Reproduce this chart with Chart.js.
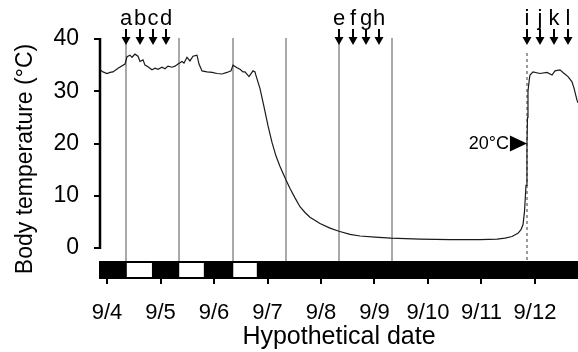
<!DOCTYPE html>
<html><head><meta charset="utf-8">
<script src="https://cdn.jsdelivr.net/npm/chart.js@4/dist/chart.umd.min.js"></script>
<style>html,body{margin:0;padding:0;background:#fff;overflow:hidden}#wrap{width:578px;height:352px}</style>
</head><body><div id="wrap"><canvas id="c" width="578" height="352"></canvas></div>
<script>
// ---- data ----
const dateLabels = ['9/4','9/5','9/6','9/7','9/8','9/9','9/10','9/11','9/12'];
const yTickValues = [0, 10, 20, 30, 40];
// days since 9/4 00:00
const tempDays = [-0.131,-0.075,0.000,0.056,0.112,0.206,0.336,0.374,0.430,0.467,0.523,0.579,0.617,0.673,0.710,0.766,0.841,0.897,0.953,1.028,1.084,1.140,1.215,1.271,1.327,1.402,1.439,1.495,1.551,1.607,1.682,1.720,1.776,1.869,1.963,2.056,2.150,2.243,2.318,2.355,2.430,2.486,2.542,2.579,2.654,2.729,2.766,2.785,2.860,2.935,3.009,3.084,3.159,3.234,3.346,3.421,3.514,3.607,3.701,3.794,3.981,4.168,4.336,4.542,4.729,5.009,5.308,5.850,6.411,6.972,7.290,7.439,7.570,7.682,7.738,7.776,7.804,7.832,7.850,7.860,7.869,7.897,7.907,7.963,8.093,8.224,8.318,8.374,8.467,8.523,8.617,8.692,8.729,8.785,8.804];
const tempValues = [34.1,33.7,33.4,33.6,33.7,34.4,35.2,36.6,36.9,36.5,37.1,36.7,35.7,36.0,35.0,34.7,34.1,34.4,34.2,34.6,34.3,34.8,34.6,34.8,35.2,35.7,35.4,36.5,35.8,36.7,36.9,35.2,33.9,33.7,33.6,33.4,33.3,33.6,33.9,35.0,34.5,34.2,33.7,33.7,32.8,33.9,33.7,33.0,30.5,27.0,23.4,20.2,17.6,15.6,13.0,11.4,9.6,7.9,6.8,5.9,4.7,3.8,3.2,2.6,2.3,2.1,1.9,1.7,1.6,1.6,1.7,1.9,2.2,2.8,3.5,4.5,7.0,12.0,20.0,25.0,30.0,32.5,33.1,33.7,33.4,33.6,33.1,33.9,34.1,33.6,32.8,31.8,30.6,28.3,27.8];
const lightOn  = [0.37, 1.35, 2.36];
const lightOff = [0.84, 1.81, 2.80];
const markerDays = [0.36, 1.35, 2.35, 3.35, 4.34, 5.32];
const sampleLetters = ['a','b','c','d','e','f','g','h','i','j','k','l'];
const sampleDays = [0.36,0.61,0.86,1.11, 4.34,4.59,4.84,5.09, 7.85,8.10,8.36,8.61];
const thresholdDay = 7.85;
const thresholdTemp = 20;
const thresholdLabel = '20°C';

const FONT = "'Liberation Sans', Arial, sans-serif";

const overlay = {
  id: 'overlay',
  beforeDatasetsDraw(chart) {
    const {ctx, chartArea: a, scales: {x, y}} = chart;
    const bandTop = a.bottom - 18;
    ctx.save();
    ctx.strokeStyle = '#a9a9a9';
    ctx.lineWidth = 2;
    markerDays.forEach(d => {
      const px = Math.round(x.getPixelForValue(d));
      ctx.beginPath(); ctx.moveTo(px, a.top - 1); ctx.lineTo(px, bandTop); ctx.stroke();
    });
    ctx.setLineDash([3, 3]);
    ctx.strokeStyle = '#9a9a9a';
    const tx = Math.round(x.getPixelForValue(thresholdDay));
    ctx.beginPath(); ctx.moveTo(tx, a.top + 14); ctx.lineTo(tx, bandTop); ctx.stroke();
    ctx.restore();
  },
  afterDatasetsDraw(chart) {
    const {ctx, chartArea: a, scales: {x, y}} = chart;
    const bandTop = a.bottom - 18;
    ctx.save();
    // light/dark band
    ctx.fillStyle = '#000';
    ctx.fillRect(a.left - 1, bandTop, a.right - a.left + 1, a.bottom - bandTop);
    ctx.fillStyle = '#fff';
    lightOn.forEach((d, i) => {
      const x0 = x.getPixelForValue(d), x1 = x.getPixelForValue(lightOff[i]);
      ctx.fillRect(x0, bandTop + 2, x1 - x0, a.bottom - bandTop - 4);
    });
    // y axis line
    ctx.strokeStyle = '#000';
    ctx.lineWidth = 2.5;
    ctx.beginPath();
    ctx.moveTo(a.left, y.getPixelForValue(40) - 1);
    ctx.lineTo(a.left, y.getPixelForValue(0) + 1);
    ctx.stroke();
    // arrows + letters
    ctx.fillStyle = '#000';
    ctx.font = '22px ' + FONT;
    ctx.textAlign = 'center';
    ctx.textBaseline = 'alphabetic';
    sampleDays.forEach((d, i) => {
      const px = Math.round(x.getPixelForValue(d));
      ctx.fillText(sampleLetters[i], px, 25);
      ctx.fillRect(px - 1, 29, 2, 9);
      ctx.beginPath();
      ctx.moveTo(px - 4.5, 37); ctx.lineTo(px + 4.5, 37); ctx.lineTo(px, 45); ctx.closePath();
      ctx.fill();
    });
    // threshold marker
    const tx = x.getPixelForValue(thresholdDay), ty = y.getPixelForValue(thresholdTemp);
    ctx.beginPath();
    ctx.moveTo(tx, ty); ctx.lineTo(tx - 17, ty - 8); ctx.lineTo(tx - 17, ty + 8); ctx.closePath();
    ctx.fill();
    ctx.font = '18px ' + FONT;
    ctx.textAlign = 'right';
    ctx.textBaseline = 'middle';
    ctx.fillText(thresholdLabel, tx - 18, ty + 1);
    ctx.restore();
  }
};

new Chart(document.getElementById('c'), {
  type: 'line',
  data: {
    datasets: [{
      data: tempDays.map((d, i) => ({x: d, y: tempValues[i]})),
      borderColor: '#1a1a1a',
      borderWidth: 1.2,
      pointRadius: 0,
      tension: 0,
      fill: false
    }]
  },
  options: {
    responsive: false,
    animation: false,
    devicePixelRatio: 1,
    layout: {padding: {top: 39, left: 0, right: 0, bottom: 0}},
    plugins: {legend: {display: false}, tooltip: {enabled: false}},
    scales: {
      x: {
        type: 'linear',
        min: -0.131, max: 8.804,
        afterBuildTicks: s => { s.ticks = dateLabels.map((_, i) => ({value: i})); },
        afterFit: s => { s.height = 73; },
        ticks: {
          callback: (v, i) => dateLabels[i],
          font: {family: FONT, size: 22}, color: '#000',
          padding: 16, maxRotation: 0, autoSkip: false
        },
        grid: {drawOnChartArea: false, drawTicks: true, tickLength: 5, color: '#000', lineWidth: 2},
        border: {display: false},
        title: {display: true, text: 'Hypothetical date', font: {family: FONT, size: 25}, color: '#000', padding: {top: 0, bottom: 0}}
      },
      y: {
        type: 'linear',
        min: -5.93, max: 40,
        afterBuildTicks: s => { s.ticks = yTickValues.map(v => ({value: v})); },
        afterFit: s => { s.width = 100; },
        ticks: {font: {family: FONT, size: 23}, color: '#000', padding: 15},
        grid: {drawOnChartArea: false, drawTicks: true, tickLength: 6, color: '#000', lineWidth: 2},
        border: {display: false},
        title: {display: true, text: 'Body temperature (°C)', font: {family: FONT, size: 23}, color: '#000', padding: {top: 12, bottom: 0}}
      }
    }
  },
  plugins: [overlay]
});
</script>
</body></html>
